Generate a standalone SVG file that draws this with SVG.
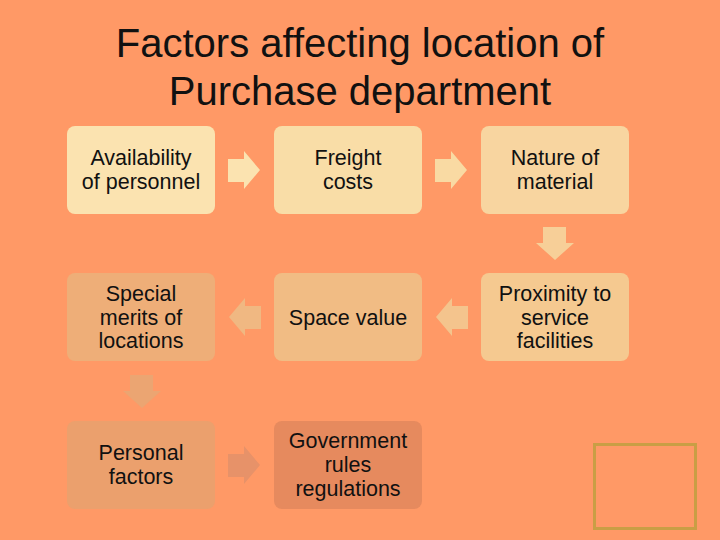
<svg xmlns="http://www.w3.org/2000/svg" width="720" height="540" viewBox="0 0 720 540">
<style>
.t{font-family:"Liberation Sans",Arial,sans-serif;fill:#111;text-anchor:middle}
.title{font-size:40px}
.lbl{font-size:21.5px}
</style>
<rect x="0" y="0" width="720" height="540" fill="#FF9966"/>
<g id="title">
<text class="t title" x="360" y="57">Factors affecting location of</text>
<text class="t title" x="360" y="105">Purchase department</text>
</g>
<g id="connectors">
<path d="M228,159 H244 V151 L260,170 L244,189 V182 H228 Z" fill="#FBE3B0"/>
<path d="M435,159 H451 V151 L467,170 L451,189 V182 H435 Z" fill="#F9DAA3"/>
<path d="M543,227 H566 V243 H574 L555,260 L536,243 H543 Z" fill="#F7CF98"/>
<path d="M468,306 H452 V298 L436,317 L452,336 V329 H468 Z" fill="#F4C48D"/>
<path d="M261,306 H245 V298 L229,317 L245,336 V329 H261 Z" fill="#F0B882"/>
<path d="M130,375 H153 V391 H161 L142,408 L123,391 H130 Z" fill="#EBA572"/>
<path d="M228,454 H244 V446 L260,465 L244,484 V477 H228 Z" fill="#E79269"/>
</g>
<g id="n1"><rect x="67" y="126" width="148" height="88" rx="8" fill="#FBE3B0"/>
<text class="t lbl" x="141" y="165">Availability</text><text class="t lbl" x="141" y="189">of personnel</text></g>
<g id="n2"><rect x="274" y="126" width="148" height="88" rx="8" fill="#F9DDA7"/>
<text class="t lbl" x="348" y="165">Freight</text><text class="t lbl" x="348" y="189">costs</text></g>
<g id="n3"><rect x="481" y="126" width="148" height="88" rx="8" fill="#F8D5A0"/>
<text class="t lbl" x="555" y="165">Nature of</text><text class="t lbl" x="555" y="189">material</text></g>
<g id="n4"><rect x="481" y="273" width="148" height="88" rx="8" fill="#F5C990"/>
<text class="t lbl" x="555" y="301">Proximity to</text><text class="t lbl" x="555" y="325">service</text><text class="t lbl" x="555" y="348">facilities</text></g>
<g id="n5"><rect x="274" y="273" width="148" height="88" rx="8" fill="#F1BC84"/>
<text class="t lbl" x="348" y="325">Space value</text></g>
<g id="n6"><rect x="67" y="273" width="148" height="88" rx="8" fill="#EEAE78"/>
<text class="t lbl" x="141" y="301">Special</text><text class="t lbl" x="141" y="325">merits of</text><text class="t lbl" x="141" y="348">locations</text></g>
<g id="n7"><rect x="67" y="421" width="148" height="88" rx="8" fill="#EBA06D"/>
<text class="t lbl" x="141" y="460">Personal</text><text class="t lbl" x="141" y="484">factors</text></g>
<g id="n8"><rect x="274" y="421" width="148" height="88" rx="8" fill="#E68A5E"/>
<text class="t lbl" x="348" y="448">Government</text><text class="t lbl" x="348" y="472">rules</text><text class="t lbl" x="348" y="496">regulations</text></g>
<rect x="594.5" y="444.5" width="101" height="84" fill="none" stroke="#C99E45" stroke-width="3"/>
</svg>
